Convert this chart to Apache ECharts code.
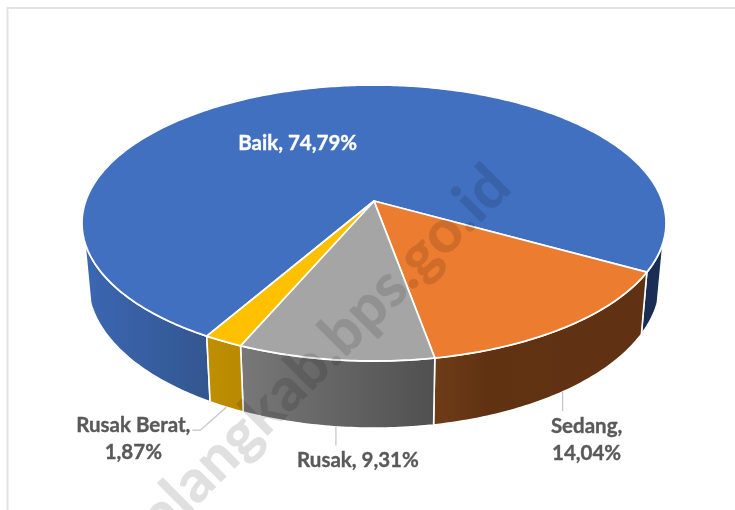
<!DOCTYPE html>
<html>
<head>
<meta charset="utf-8">
<style>html,body{margin:0;padding:0;background:#fff}#c{width:735px;height:510px}</style>
<script src="https://cdn.jsdelivr.net/npm/echarts@6/dist/echarts.min.js"></script>
</head>
<body>
<div id="c"></div>
<script>
// ---- data ----
const categories = ['Baik', 'Sedang', 'Rusak', 'Rusak Berat'];
const values = [74.79, 14.04, 9.31, 1.87];
const valueLabels = ['74,79%', '14,04%', '9,31%', '1,87%'];
// ---- style ----
const topColors = ['#4170c1', '#ec7c30', '#a5a5a5', '#ffc000'];
const sideStops = [
  [[0, '#3b67b2'], [1, '#32568f']],
  [[0, '#6e3c17'], [0.25, '#613212'], [1, '#5f3213']],
  [[0, '#787878'], [1, '#505050']],
  [[0, '#bf8f00'], [1, '#b88a02']]
];
const labelLines = [
  ['Baik, 74,79%'],
  ['Sedang,', '14,04%'],
  ['Rusak, 9,31%'],
  ['Rusak Berat,', '1,87%']
];
// label centre relative to the slice's rim anchor
const labelOffset = [[-10, 54], [24, 47], [22, 33], [-93, 31]];
// leader polyline relative to the same anchor
const leaderOffset = [null, [[0, 19]], [[0, 19]], [[-26, 23], [-34, 23]]];
const labelColor = ['#ffffff', '#595959', '#595959', '#595959'];

// ---- perspective of the pie disc ----
const apexX = 374, apexY = 201, persp = 0.1594, scaleX = 288.3, scaleY = 134.5;
const baseScaleX = 0.98, baseScaleY = 1.057, baseDrop = 58;
const firstSliceAngle = 210;
const silhouette = [107, 253];
const total = values.reduce((a, b) => a + b, 0);

function sliceRange(i) {
  let s = firstSliceAngle;
  for (let k = 0; k < i; k++) s += values[k] / total * 360;
  return [s, s + values[i] / total * 360];
}
function topPoint(deg) {
  const t = deg * Math.PI / 180, u = Math.sin(t), v = -Math.cos(t), w = 1 - persp * v;
  return [scaleX * u / w, scaleY * v / w];
}
function toTop(p) { return [apexX + p[0], apexY + p[1]]; }
function toBase(p) { return [apexX + p[0] * baseScaleX, apexY + p[1] * baseScaleY + baseDrop]; }
function arc(a, b, map) {
  const n = Math.max(2, Math.ceil(Math.abs(b - a) / 0.75)), out = [];
  for (let j = 0; j <= n; j++) out.push(map(topPoint(a + (b - a) * j / n)));
  return out;
}
function sidePoly(a, b) { return arc(a, b, toTop).concat(arc(b, a, toBase)); }

function renderSide(params, api) {
  const i = params.dataIndex;
  api.value(0);
  const r = sliceRange(i);
  const wall = (a, b, x0, x1, stops) => ({
    type: 'polygon',
    shape: { points: sidePoly(a, b) },
    style: {
      fill: new echarts.graphic.LinearGradient(x0, 0, x1, 0,
        stops.map(s => ({ offset: s[0], color: s[1] })), true),
      stroke: '#ffffff', lineWidth: 1.6, lineJoin: 'round'
    }
  });
  if (i === 0) {
    return { type: 'group', children: [
      wall(r[0], silhouette[1], 85, 210, sideStops[0]),
      wall(silhouette[0] + 360, r[1], 640, 665, [[0, '#182c50'], [1, '#1a3059']])
    ]};
  }
  const a = toTop(topPoint(r[0]))[0], b = toTop(topPoint(r[1]))[0];
  return wall(r[0], r[1], Math.min(a, b), Math.max(a, b), sideStops[i]);
}

function renderTop(params, api) {
  const i = params.dataIndex;
  api.value(0);
  const r = sliceRange(i);
  return {
    type: 'polygon',
    shape: { points: [[apexX, apexY]].concat(arc(r[0], r[1], toTop)) },
    style: { fill: topColors[i], stroke: '#ffffff', lineWidth: 1.8, lineJoin: 'round' }
  };
}

function renderLabel(params, api) {
  const i = params.dataIndex;
  api.value(0);
  const r = sliceRange(i), mid = (r[0] + r[1]) / 2;
  const anchor = i === 0 ? toTop(topPoint(mid)) : toBase(topPoint(mid));
  const children = [];
  if (leaderOffset[i]) {
    const pts = [anchor].concat(leaderOffset[i].map(o => [anchor[0] + o[0], anchor[1] + o[1]]));
    children.push({ type: 'polyline', shape: { points: pts },
      style: { stroke: '#c4c4c4', lineWidth: 1.2, fill: null } });
  }
  children.push({
    type: 'text',
    style: {
      x: anchor[0] + labelOffset[i][0], y: anchor[1] + labelOffset[i][1] + 1,
      text: labelLines[i].join('\n'),
      align: 'center', verticalAlign: 'middle', lineHeight: 27,
      font: 'bold 20.5px Lato, "Open Sans", sans-serif',
      fill: labelColor[i], stroke: labelColor[i], lineWidth: 0.35
    }
  });
  return { type: 'group', children };
}

const chartData = values.map((v, i) => ({ name: categories[i], value: [v] }));
const chart = echarts.init(document.getElementById('c'), null, { renderer: 'canvas' });
chart.setOption({
  animation: false,
  backgroundColor: '#ffffff',
  graphic: [
    { type: 'polyline', z: 0, silent: true,
      shape: { points: [[7.5, 510], [7.5, 8], [735, 8]] },
      style: { stroke: '#e3e3e3', lineWidth: 2, fill: null } },
    { type: 'text', z: 100, silent: true,
      x: 500, y: 176, rotation: 45 * Math.PI / 180,
      style: { text: 'malangkab.bps.go.id', align: 'right', verticalAlign: 'middle',
        font: '900 60px Lato, sans-serif', fill: 'rgba(0,0,0,0.12)' } }
  ],
  series: [
    { type: 'custom', coordinateSystem: 'none', z: 1, silent: true, renderItem: renderSide, data: chartData },
    { type: 'custom', coordinateSystem: 'none', z: 2, silent: true, renderItem: renderTop, data: chartData },
    { type: 'custom', coordinateSystem: 'none', z: 3, silent: true, renderItem: renderLabel, data: chartData }
  ]
});
</script>
</body>
</html>
